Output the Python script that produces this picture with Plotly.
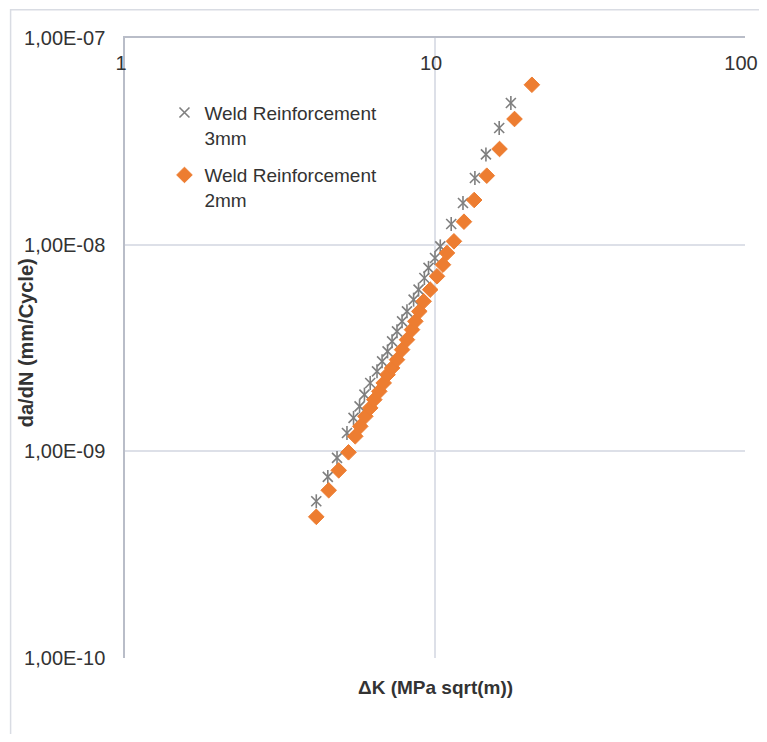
import plotly.graph_objects as go

# Weld Reinforcement 3mm (asterisk markers)
dk_3mm = [4.14, 4.51, 4.83, 5.20, 5.46, 5.71, 5.92, 6.18, 6.50, 6.75, 7.03, 7.27, 7.54,
          7.83, 8.12, 8.53, 8.85, 9.24, 9.53, 10.0, 10.4, 11.28, 12.31, 13.45, 14.60,
          16.11, 17.57]
dadn_3mm = [5.73e-10, 7.52e-10, 9.29e-10, 1.227e-9, 1.451e-9, 1.651e-9, 1.880e-9,
            2.142e-9, 2.438e-9, 2.725e-9, 3.046e-9, 3.405e-9, 3.806e-9, 4.256e-9,
            4.756e-9, 5.42e-9, 6.06e-9, 6.90e-9, 7.72e-9, 8.62e-9, 9.81e-9, 1.259e-8,
            1.591e-8, 2.103e-8, 2.735e-8, 3.669e-8, 4.85e-8]

# Weld Reinforcement 2mm (diamond markers)
dk_2mm = [4.14, 4.54, 4.89, 5.26, 5.53, 5.74, 5.96, 6.18, 6.37, 6.61, 6.83, 7.03, 7.27,
          7.54, 7.83, 8.12, 8.43, 8.64, 8.90, 9.19, 9.65, 10.15, 10.61, 10.93, 11.51,
          12.40, 13.38, 14.69, 16.15, 18.05, 20.54]
dadn_2mm = [4.82e-10, 6.48e-10, 8.09e-10, 9.89e-10, 1.182e-9, 1.321e-9, 1.477e-9,
            1.622e-9, 1.779e-9, 1.951e-9, 2.142e-9, 2.350e-9, 2.532e-9, 2.777e-9,
            3.105e-9, 3.470e-9, 3.880e-9, 4.256e-9, 4.756e-9, 5.32e-9, 6.06e-9,
            7.03e-9, 8.00e-9, 9.12e-9, 1.038e-8, 1.292e-8, 1.645e-8, 2.157e-8,
            2.904e-8, 4.056e-8, 5.94e-8]

series_names = ["Weld Reinforcement<br>3mm", "Weld Reinforcement<br>2mm"]

x_tickvals = [1, 10, 100]
x_ticktext = ["1", "10", "100"]
y_tickvals = [1e-10, 1e-9, 1e-8, 1e-7]
y_ticktext = ["1,00E-10", "1,00E-09", "1,00E-08", "1,00E-07"]

x_title = "ΔK (MPa sqrt(m))"
y_title = "da/dN (mm/Cycle)"

FONT = "Liberation Sans, Arial, sans-serif"
TXT = "#333333"
GREY = "#7f7f7f"
ORANGE = "#ED7D31"
GRID = "#dde0e8"
AXIS = "#b9bdc8"

fig = go.Figure()
fig.add_trace(go.Scatter(
    x=dk_3mm, y=dadn_3mm, mode="markers", name=series_names[0],
    legendgroup="g3",
    marker=dict(symbol="x-thin-open", size=10, color=GREY,
                line=dict(color=GREY, width=1.6)),
))
fig.add_trace(go.Scatter(
    x=dk_3mm, y=dadn_3mm, mode="markers", name=series_names[0], showlegend=False,
    legendgroup="g3",
    marker=dict(symbol="line-ns-open", size=10, color=GREY,
                line=dict(color=GREY, width=1.6)),
))
fig.add_trace(go.Scatter(
    x=dk_2mm, y=dadn_2mm, mode="markers", name=series_names[1],
    legendgroup="g2",
    marker=dict(symbol="diamond", size=12, color=ORANGE,
                line=dict(color=ORANGE, width=1)),
))

# page body has an 8px margin; the figure fills the rest of the window
OFF = 8
W, H = 767 - 2 * OFF, 742 - 2 * OFF
PL, PR, PT, PB = 124.5, 745.0, 38.3, 658.4   # plot area in window pixels
L, T = PL - OFF, PT - OFF
R, B = W - (PR - OFF), H - (PB - OFF)
pw, ph = PR - PL, PB - PT

def px_x(p):
    return (p - PL) / pw

def px_y(p):
    return 1 - (p - PT) / ph

fig.update_layout(
    width=W, height=H,
    margin=dict(l=L, r=R, t=T, b=B, autoexpand=False),
    paper_bgcolor="white", plot_bgcolor="white",
    font=dict(family=FONT, size=20, color=TXT),
    showlegend=True,
    legend=dict(x=px_x(164), y=px_y(94), xanchor="left", yanchor="top",
                bgcolor="rgba(0,0,0,0)", valign="top",
                traceorder="grouped", tracegroupgap=10,
                font=dict(family=FONT, size=19, color=TXT)),
    xaxis=dict(type="log", range=[-0.0001, 2.0001], side="top",
               tickvals=x_tickvals, ticktext=x_ticktext,
               ticklabelposition="inside", ticklabeloverflow="allow",
               ticks="", ticklabelstandoff=19, ticklabelshift=-4,
               showline=True, linecolor=AXIS, linewidth=1.5,
               showgrid=True, gridcolor=GRID, gridwidth=1.5,
               zeroline=False, tickfont=dict(size=20, color=TXT)),
    yaxis=dict(type="log", range=[-10.0001, -6.9999],
               tickvals=y_tickvals, ticktext=y_ticktext,
               ticks="", ticklabelstandoff=14, ticklabeloverflow="allow",
               showline=True, linecolor=AXIS, linewidth=1.5,
               showgrid=True, gridcolor=GRID, gridwidth=1.5,
               zeroline=False, tickfont=dict(size=20, color=TXT)),
    annotations=[
        dict(text="<b>" + x_title + "</b>", xref="paper", yref="paper",
             x=px_x(435), y=px_y(688), xanchor="center", yanchor="middle",
             showarrow=False, font=dict(family=FONT, size=19, color=TXT)),
        dict(text="<b>" + y_title + "</b>", xref="paper", yref="paper",
             x=px_x(25), y=px_y(343), xanchor="center", yanchor="middle",
             showarrow=False, textangle=-90,
             font=dict(family=FONT, size=20, color=TXT)),
    ],
    shapes=[
        dict(type="rect", xref="paper", yref="paper",
             x0=px_x(10), y0=px_y(780), x1=px_x(800), y1=px_y(10),
             line=dict(color="#d9dce3", width=1.5), fillcolor="rgba(0,0,0,0)",
             layer="below"),
    ],
)

fig.write_html("out.html")
